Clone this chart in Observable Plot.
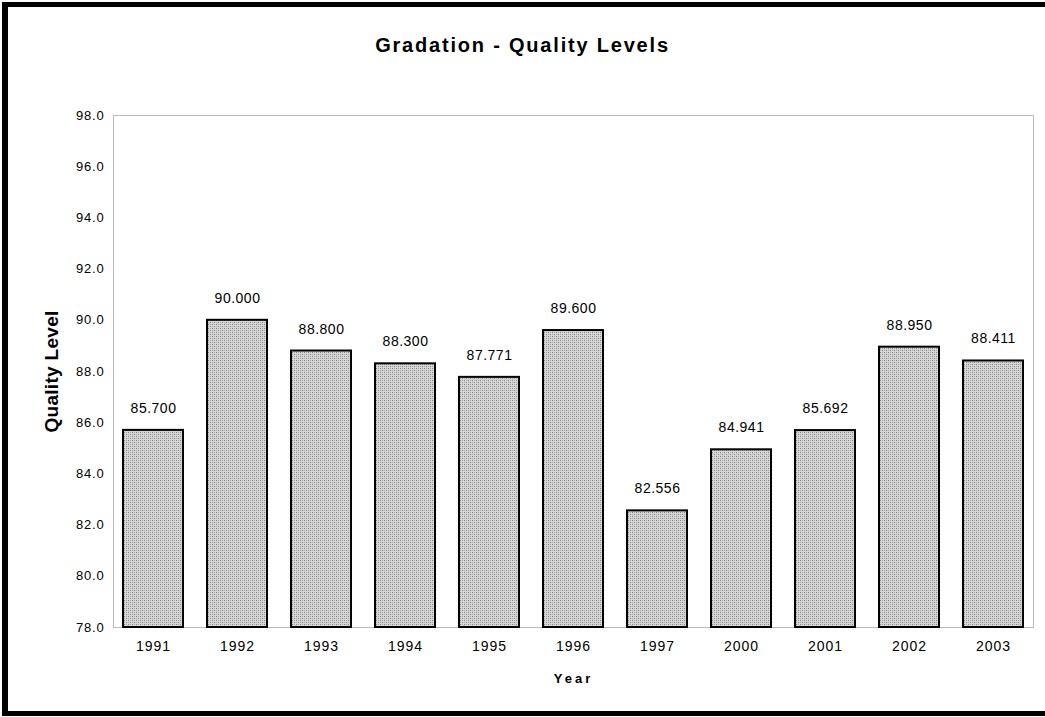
<!DOCTYPE html>
<html>
<head>
<meta charset="utf-8">
<script src="https://cdn.jsdelivr.net/npm/d3@7"></script>
<script src="https://cdn.jsdelivr.net/npm/@observablehq/plot@0.6"></script>
<style>
  html, body { margin: 0; padding: 0; background: #fff; }
  #wrap { position: relative; width: 1045px; height: 717px; overflow: hidden; background: #fff; font-family: "Liberation Sans", Arial, sans-serif; }
  #border { position: absolute; left: 2px; top: 2px; width: 1100px; height: 704px; border-top: 5px solid #000; border-left: 6px solid #000; border-bottom: 5px solid #000; pointer-events: none; }
  #title { height: 46px; padding-top: 34px; box-sizing: content-box; text-align: center; font-weight: bold; font-size: 20px; line-height: 22px; letter-spacing: 1.8px; color: #000; }
  #title span { display: inline-block; height: 22px; }
  #chart svg { display: block; }
</style>
</head>
<body>
<div id="wrap">
  <div id="title"><span>Gradation - Quality Levels</span></div>
  <div id="chart"></div>
  <div id="border"></div>
</div>
<script>
const years = ["1991", "1992", "1993", "1994", "1995", "1996", "1997", "2000", "2001", "2002", "2003"];
const quality = [85.700, 90.000, 88.800, 88.300, 87.771, 89.600, 82.556, 84.941, 85.692, 88.950, 88.411];
const yTicks = [78, 80, 82, 84, 86, 88, 90, 92, 94, 96, 98];
const xLabel = "Year";
const yLabel = "Quality Level";

const data = years.map((y, i) => ({year: y, value: quality[i]}));

const chart = Plot.plot({
  width: 1045,
  height: 637,
  marginTop: 35,
  marginBottom: 90,
  marginLeft: 113,
  marginRight: 12,
  style: {fontFamily: "'Liberation Sans', Arial, sans-serif", color: "#000", background: "transparent"},
  x: {domain: years, paddingInner: 0.286, paddingOuter: 0.119, label: null},
  y: {domain: [78, 98], label: null},
  marks: [
    Plot.frame({stroke: "#777", strokeDasharray: "1,1"}),
    Plot.barY(data, {x: "year", y1: 78, y2: "value", fill: "#c4c4c4", stroke: "#000", strokeWidth: 2}),
    Plot.text(data, {x: "year", y: "value", text: d => d.value.toFixed(3), dy: -22, lineAnchor: "middle", fontSize: 14, fill: "#000"}),
    Plot.axisX({tickSize: 0, tickPadding: 14, fontSize: 14, label: null}),
    Plot.axisY({ticks: yTicks, tickFormat: d => d.toFixed(1), tickSize: 0, tickPadding: 9, fontSize: 13, label: null}),
    Plot.text([yLabel], {frameAnchor: "left", dx: -62, rotate: -90, textAnchor: "middle", text: d => d, fontSize: 19, fontWeight: "bold", fill: "#000"}),
    Plot.text([xLabel], {frameAnchor: "bottom", dy: 55, text: d => d, fontSize: 13, fontWeight: "bold", fill: "#000"})
  ]
});

document.getElementById("chart").appendChild(chart);

// dotted fill pattern for bars
const svg = d3.select(chart);
const defs = svg.insert("defs", ":first-child");
const pat = defs.append("pattern").attr("id", "dots").attr("patternUnits", "userSpaceOnUse").attr("width", 4).attr("height", 4);
pat.append("rect").attr("width", 4).attr("height", 4).attr("fill", "#d6d6d6");
pat.append("rect").attr("x", 0).attr("y", 0).attr("width", 1).attr("height", 1).attr("fill", "#848484");
pat.append("rect").attr("x", 2).attr("y", 2).attr("width", 1).attr("height", 1).attr("fill", "#848484");
pat.append("rect").attr("x", 2).attr("y", 0).attr("width", 1).attr("height", 1).attr("fill", "#aaaaaa");
pat.append("rect").attr("x", 0).attr("y", 2).attr("width", 1).attr("height", 1).attr("fill", "#aaaaaa");
svg.selectAll("g[aria-label='bar'] rect").attr("fill", "url(#dots)");
svg.selectAll("text").filter(function(){ return /^\d{4}$/.test(this.textContent); }).style("letter-spacing", "1px");
svg.selectAll("text").filter(function(){ return /^\d+\.\d{3}$/.test(this.textContent); }).style("letter-spacing", "0.5px");
svg.selectAll("text").filter(function(){ return /^\d+\.\d$/.test(this.textContent); }).style("font-size", "13px").style("letter-spacing", "0.8px");
svg.selectAll("text").filter(function(){ return this.textContent === xLabel; }).style("letter-spacing", "3px");
svg.selectAll("text").filter(function(){ return this.textContent === yLabel; }).style("letter-spacing", "0.3px");
</script>
</body>
</html>
